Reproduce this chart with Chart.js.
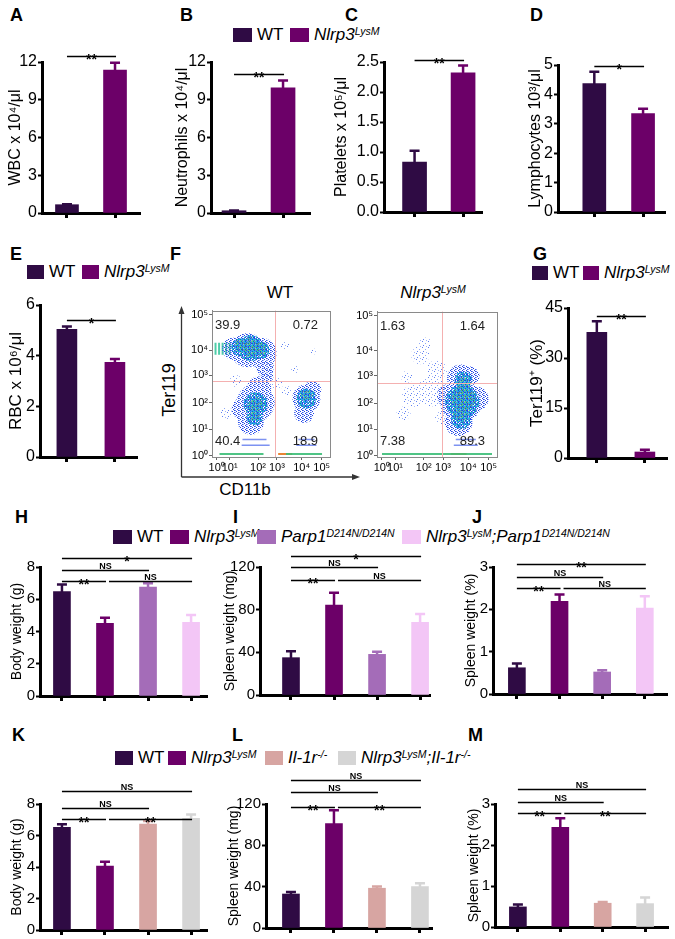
<!DOCTYPE html>
<html><head><meta charset="utf-8">
<script src="https://cdn.jsdelivr.net/npm/chart.js@4.4.1/dist/chart.umd.min.js"></script>
<style>
html,body{margin:0;padding:0;background:#fff;}
#root{position:relative;width:675px;height:939px;overflow:hidden;font-family:'Liberation Sans',Arial,sans-serif;color:#000;}
#root canvas{position:absolute;}
.lbl{position:absolute;font-weight:bold;font-size:18px;line-height:18px;}
.leg{position:absolute;height:18px;line-height:18px;font-size:17px;white-space:nowrap;}
.sw{position:absolute;top:2px;width:19px;height:14px;}
.lt{position:absolute;top:0;}
sup{font-size:10.5px;vertical-align:top;position:relative;top:0px;line-height:10px;}
.ctr{position:absolute;transform:translate(-50%,-50%);white-space:nowrap;line-height:1;}
</style></head>
<body><div id="root"></div>
<script>
// ---------- data ----------
const groups2 = ['WT', 'Nlrp3LysM'];
const wbc = [0.66, 11.35],  wbcErr = [0.03, 0.6];
const neut = [0.18, 9.95],  neutErr = [0.02, 0.58];
const plt = [0.83, 2.32],   pltErr = [0.19, 0.12];
const lymph = [4.37, 3.35], lymphErr = [0.4, 0.16];
const rbc = [5.04, 3.74],   rbcErr = [0.11, 0.13];
const ter = [37.7, 1.8],    terErr = [3.3, 0.7];
const groupsParp = ['WT', 'Nlrp3LysM', 'Parp1D214N/D214N', 'Nlrp3LysM;Parp1D214N/D214N'];
const bwParp = [6.47, 4.51, 6.75, 4.57], bwParpErr = [0.45, 0.35, 0.25, 0.45];
const swParp = [35, 84.4, 38.1, 68.1],   swParpErr = [6, 11.5, 2.5, 7.8];
const spParp = [0.62, 2.19, 0.52, 2.03], spParpErr = [0.1, 0.16, 0.04, 0.28];
const groupsIl = ['WT', 'Nlrp3LysM', 'Il-1r-/-', 'Nlrp3LysM;Il-1r-/-'];
const bwIl = [6.52, 4.06, 6.73, 7.09],   bwIlErr = [0.19, 0.28, 0.19, 0.25];
const swIl = [32.9, 101, 38.5, 40.1],    swIlErr = [2, 13, 1.6, 3.3];
const spIl = [0.49, 2.43, 0.58, 0.57],   spIlErr = [0.06, 0.22, 0.03, 0.15];
// significance comparisons: [from, to, label, row]
const sigA = [[0, 1, '**', 0]];
const sigB = [[0, 1, '**', 0]];
const sigC = [[0, 1, '**', 0]];
const sigD = [[0, 1, '*', 0]];
const sigE = [[0, 1, '*', 0]];
const sigG = [[0, 1, '**', 0]];
const sigH = [[0, 3, '*', 0], [0, 2, 'NS', 1], [0, 1, '**', 2], [1, 3, 'NS', 2]];
const sigI = [[0, 3, '*', 0], [0, 2, 'NS', 1], [0, 1, '**', 2], [1, 3, 'NS', 2]];
const sigJ = [[0, 3, '**', 0], [0, 2, 'NS', 1], [0, 1, '**', 2], [1, 3, 'NS', 2]];
const sigK = [[0, 3, 'NS', 0], [0, 2, 'NS', 1], [0, 1, '**', 2], [1, 3, '**', 2]];
const sigL = [[0, 3, 'NS', 0], [0, 2, 'NS', 1], [0, 1, '**', 2], [1, 3, '**', 2]];
const sigM = [[0, 3, 'NS', 0], [0, 2, 'NS', 1], [0, 1, '**', 2], [1, 3, '**', 2]];
// flow cytometry: decade tick positions on the display scale and labels
const flowXTicks = [0.04, 0.15, 0.39, 0.55, 0.76, 0.93];
const flowYTicks = [0.01, 0.19, 0.37, 0.56, 0.73, 0.97];
const flowTickLabels = ['10⁰', '10¹', '10²', '10³', '10⁴', '10⁵'];
const quadWT = ['39.9', '0.72', '40.4', '18.9'];
const quadKO = ['1.63', '1.64', '7.38', '89.3'];
const gateWT = [0.53, 0.52], gateKO = [0.54, 0.51];
// estimated event clouds (x, y on display scale, r = spread in px)
const wtSparse = [{x:0.46,y:0.60,r:9},{x:0.55,y:0.50,r:6},{x:0.63,y:0.45,r:5},{x:0.20,y:0.52,r:6},{x:0.62,y:0.76,r:5},{x:0.86,y:0.72,r:3},{x:0.12,y:0.30,r:6},{x:0.70,y:0.60,r:4}];
const wtBlue = [{x:0.30,y:0.73,r:17},{x:0.42,y:0.71,r:15},{x:0.45,y:0.61,r:9},{x:0.18,y:0.74,r:11},{x:0.47,y:0.55,r:6},{x:0.37,y:0.37,r:19},{x:0.33,y:0.24,r:13},{x:0.40,y:0.47,r:12},{x:0.26,y:0.33,r:11},{x:0.80,y:0.40,r:14},{x:0.78,y:0.30,r:10},{x:0.85,y:0.46,r:9}];
const wtCyan = [{x:0.33,y:0.745,r:13},{x:0.24,y:0.75,r:9},{x:0.41,y:0.73,r:9},{x:0.37,y:0.36,r:12},{x:0.36,y:0.27,r:8},{x:0.80,y:0.40,r:10}];
const wtGreen = [{x:0.33,y:0.75,r:10},{x:0.25,y:0.76,r:7},{x:0.40,y:0.74,r:7},{x:0.37,y:0.36,r:7},{x:0.36,y:0.28,r:5},{x:0.80,y:0.42,r:6}];
const wtYellow = [{x:0.35,y:0.755,r:5},{x:0.29,y:0.76,r:3}];
const wtStreakV = [{x:0.03,y:0.74,r:6},{x:0.06,y:0.74,r:6},{x:0.09,y:0.74,r:6},{x:0.12,y:0.74,r:6},{x:0.15,y:0.74,r:6}];
const wtRows = [{x:0.36,y:0.12,r:12},{x:0.37,y:0.08,r:14},{x:0.80,y:0.12,r:8},{x:0.80,y:0.08,r:10}];
const wtBottom = [{x:0.25,y:0.02,r:22},{x:0.78,y:0.02,r:18}];
const wtBottomHot = [{x:0.62,y:0.02,r:7}];
const koSparse = [{x:0.45,y:0.45,r:15},{x:0.30,y:0.42,r:11},{x:0.50,y:0.60,r:10},{x:0.36,y:0.70,r:9},{x:0.40,y:0.78,r:6},{x:0.22,y:0.30,r:7},{x:0.55,y:0.28,r:8},{x:0.25,y:0.55,r:6}];
const koBlue = [{x:0.70,y:0.38,r:21},{x:0.68,y:0.24,r:14},{x:0.70,y:0.54,r:14},{x:0.60,y:0.42,r:12},{x:0.83,y:0.40,r:12},{x:0.78,y:0.56,r:9}];
const koCyan = [{x:0.71,y:0.38,r:17},{x:0.70,y:0.26,r:10},{x:0.72,y:0.53,r:9}];
const koGreen = [{x:0.72,y:0.40,r:12},{x:0.70,y:0.30,r:8},{x:0.72,y:0.50,r:7}];
const koYellow = [{x:0.73,y:0.42,r:7},{x:0.74,y:0.35,r:5}];
const koRows = [{x:0.74,y:0.12,r:10},{x:0.74,y:0.08,r:12}];
const koBottom = [{x:0.50,y:0.02,r:55}];
const koBottomHot = [{x:0.68,y:0.02,r:8}];

// ---------- style ----------
const COL = {WT:'#2f0b44', N:'#6c0068', P:'#a46cb8', NP:'#f3c6f6', I:'#d7a5a2', NI:'#d5d5d5'};
const FONT = "'Liberation Sans', Arial, sans-serif";
Chart.defaults.font.family = FONT;
Chart.defaults.color = '#000';
const root = document.getElementById('root');

const errSig = {
  id: 'errSig',
  afterDatasetsDraw(chart, args, o) {
    const ctx = chart.ctx, xs = chart.scales.x, ys = chart.scales.y, top = chart.chartArea.top;
    ctx.save();
    o.values.forEach((v, i) => {
      const e = o.errors[i]; if (!e) return;
      const x = xs.getPixelForValue(i), y0 = ys.getPixelForValue(v), y1 = ys.getPixelForValue(v + e);
      ctx.strokeStyle = o.colors[i]; ctx.lineWidth = 2.5;
      ctx.beginPath(); ctx.moveTo(x, y0 + 1); ctx.lineTo(x, y1); ctx.moveTo(x - o.cap, y1); ctx.lineTo(x + o.cap, y1); ctx.stroke();
    });
    o.sig.forEach(([i, j, t, l]) => {
      const y = Math.round(top + o.levels[l]) + 0.5;
      const x1 = xs.getPixelForValue(i) + (i > 0 ? 4 : 0), x2 = xs.getPixelForValue(j) + 1;
      ctx.strokeStyle = '#000'; ctx.lineWidth = 1.3;
      ctx.beginPath(); ctx.moveTo(x1, y); ctx.lineTo(x2, y); ctx.stroke();
      ctx.fillStyle = '#000'; ctx.textAlign = 'center'; ctx.textBaseline = 'alphabetic';
      if (t === 'NS') { ctx.font = 'bold 9px ' + FONT; ctx.fillText(t, (x1 + x2) / 2, y - 2); }
      else { ctx.font = 'bold 14px ' + FONT; ctx.fillText(t, (x1 + x2) / 2, y + 7); }
    });
    ctx.restore();
  }
};

function makeBar(c) {
  const padT = 40, padR = 8, padB = 16;
  const titleSize = c.titleSize || 16, tickSize = c.tickSize || 16;
  const canvasLeft = Math.min(c.titleX - 10, c.left - 42);
  const padL = c.left - canvasLeft;
  const w = c.right - c.left, h = c.bottom - c.top;
  const cv = document.createElement('canvas');
  cv.width = w + padL + padR; cv.height = h + padT + padB;
  cv.style.left = canvasLeft + 'px'; cv.style.top = (c.top - padT) + 'px';
  root.appendChild(cv);
  new Chart(cv, {
    type: 'bar',
    data: { datasets: [{ data: c.values.map((v, i) => ({x: i, y: v})), backgroundColor: c.colors, borderWidth: 0, barThickness: c.barW }] },
    options: {
      responsive: false, animation: false, events: [], devicePixelRatio: 1,
      layout: { autoPadding: false, padding: { top: padT, right: padR, left: 0, bottom: 0 } },
      plugins: { legend: {display: false}, tooltip: {enabled: false},
        errSig: { values: c.values, errors: c.errors, colors: c.colors, sig: c.sig, levels: c.levels, cap: c.cap || 5 } },
      scales: {
        x: { type: 'linear', min: c.xmin, max: c.xmax, offset: false,
          afterBuildTicks: s => { s.ticks = c.values.map((v, i) => ({value: i})); },
          afterFit: s => { s.height = padB; },
          ticks: { callback: () => '', autoSkip: false },
          grid: { display: true, offset: false, drawOnChartArea: false, tickLength: 5, tickWidth: 3, tickColor: '#000' },
          border: { color: '#000', width: 3 } },
        y: { min: 0, max: c.yMax,
          afterFit: s => { s.width = padL; },
          ticks: { stepSize: c.step, font: { size: tickSize }, color: '#000', padding: 1, callback: v => v.toFixed(c.dec || 0) },
          grid: { drawOnChartArea: false, tickLength: 4, tickWidth: 2, tickColor: '#000' },
          border: { color: '#000', width: 3 },
          title: { display: true, text: c.title, font: { size: titleSize }, color: '#000', padding: { top: c.titleX - canvasLeft - titleSize * 0.6, bottom: 0 } } }
      }
    },
    plugins: [errSig]
  });
}

function makePattern(size, dots) {
  const c = document.createElement('canvas'); c.width = size; c.height = size;
  const g = c.getContext('2d');
  dots.forEach(([x, y, col]) => { g.fillStyle = col; g.fillRect(x, y, 1, 1); });
  return g.createPattern(c, 'repeat');
}
const sparseP = makePattern(6, [[1,1,'#5f80f2'],[4,3,'#8fa8f6'],[2,5,'#5f80f2'],[5,0,'#9fb4f8']]);
const blueP = makePattern(4, [[0,0,'#1f3fe0'],[2,1,'#3a5cf0'],[1,2,'#1f3fe0'],[3,3,'#5a7af5'],[2,3,'#2a4ae6'],[3,1,'#8fa8f6']]);
const cyanP = makePattern(3, [[0,0,'#19b8e6'],[1,1,'#2a4ae6'],[2,2,'#1fd0d0'],[1,0,'#19b8e6'],[0,2,'#28a0f0'],[2,0,'#36c9a8'],[0,1,'#2fc4b0']]);

const quadPlugin = {
  id: 'quad',
  afterDatasetsDraw(chart, args, o) {
    const ctx = chart.ctx, a = chart.chartArea, xs = chart.scales.x, ys = chart.scales.y;
    ctx.save();
    ctx.strokeStyle = '#f4b0b0'; ctx.lineWidth = 1;
    const gx = Math.round(xs.getPixelForValue(o.gate[0])) + 0.5, gy = Math.round(ys.getPixelForValue(o.gate[1])) + 0.5;
    ctx.beginPath(); ctx.moveTo(gx, a.top); ctx.lineTo(gx, a.bottom); ctx.moveTo(a.left, gy); ctx.lineTo(a.right, gy); ctx.stroke();
    ctx.strokeStyle = '#8a8a8a'; ctx.lineWidth = 1;
    ctx.strokeRect(Math.round(a.left) + 0.5, Math.round(a.top) + 0.5, Math.round(a.right - a.left), Math.round(a.bottom - a.top));
    ctx.fillStyle = '#222'; ctx.font = '13px ' + FONT; ctx.textBaseline = 'middle';
    ctx.textAlign = 'left';
    ctx.fillText(o.quad[0], a.left + 3, a.top + 15); ctx.fillText(o.quad[2], a.left + 3, a.bottom - 16);
    ctx.textAlign = 'right';
    ctx.fillText(o.quad[1], a.right - 12, a.top + 15); ctx.fillText(o.quad[3], a.right - 12, a.bottom - 16);
    ctx.restore();
  }
};

function makeFlow(c) {
  const padL = 40, padT = 4, padR = 4, padB = 24;
  const w = c.right - c.left, h = c.bottom - c.top;
  const cv = document.createElement('canvas');
  cv.width = w + padL + padR; cv.height = h + padT + padB;
  cv.style.left = (c.left - padL) + 'px'; cv.style.top = (c.top - padT) + 'px';
  root.appendChild(cv);
  const bub = (data, bg) => ({ data, backgroundColor: bg, borderWidth: 0, pointStyle: 'circle' });
  const ln = (data, col, rot, wdt) => ({ data, pointStyle: 'line', borderColor: col, borderWidth: wdt || 1, rotation: rot || 0 });
  new Chart(cv, {
    type: 'bubble',
    data: { datasets: c.layers.map(([kind, d, col, rot, wd]) => kind === 'b' ? bub(d, col) : ln(d, col, rot, wd)) },
    options: {
      responsive: false, animation: false, events: [], devicePixelRatio: 1,
      layout: { autoPadding: false, padding: { top: padT, right: padR, left: 0, bottom: 0 } },
      plugins: { legend: {display: false}, tooltip: {enabled: false}, quad: { gate: c.gate, quad: c.quad } },
      scales: {
        x: { type: 'linear', min: 0, max: 1,
          afterBuildTicks: s => { s.ticks = flowXTicks.map(v => ({value: v})); },
          afterFit: s => { s.height = padB; },
          ticks: { callback: (v, i) => flowTickLabels[i], autoSkip: false, maxRotation: 0, font: { size: 11 }, color: '#000', padding: 1 },
          grid: { drawOnChartArea: false, tickLength: 3, tickColor: '#666' },
          border: { color: '#8a8a8a', width: 1 } },
        y: { type: 'linear', min: 0, max: 1,
          afterBuildTicks: s => { s.ticks = flowYTicks.map(v => ({value: v})); },
          afterFit: s => { s.width = padL; },
          ticks: { callback: (v, i) => flowTickLabels[i], autoSkip: false, font: { size: 11 }, color: '#000', padding: 1 },
          grid: { drawOnChartArea: false, tickLength: 3, tickColor: '#666' },
          border: { color: '#8a8a8a', width: 1 } }
      }
    },
    plugins: [quadPlugin]
  });
}

// ---------- HTML labels ----------
function addHTML(html) { root.insertAdjacentHTML('beforeend', html); }
const letters = [['A',10,6],['B',180,6],['C',345,6],['D',530,6],['E',10,245],['F',170,245],['G',533,245],['H',15,508],['I',233,508],['J',472,508],['K',12,726],['L',232,726],['M',468,726]];
letters.forEach(([t, x, y]) => addHTML(`<div class="lbl" style="left:${x}px;top:${y}px">${t}</div>`));
const NL = '<i>Nlrp3<sup>LysM</sup></i>';
function legend(cy, items, sw) {
  items.forEach(([x, col, txt]) => {
    addHTML(`<div class="leg" style="left:${x}px;top:${cy - 9}px"><span class="sw" style="left:0;width:${sw}px;background:${col}"></span><span class="lt" style="left:${sw + 5}px">${txt}</span></div>`);
  });
}
legend(35, [[233, COL.WT, 'WT'], [290, COL.N, NL]], 19);
legend(272, [[27, COL.WT, 'WT'], [82, COL.N, NL]], 17);
legend(273, [[532, COL.WT, 'WT'], [583, COL.N, NL]], 16);
legend(537, [[113, COL.WT, 'WT'], [170, COL.N, NL], [257, COL.P, '<i>Parp1<sup>D214N/D214N</sup></i>'], [402, COL.NP, '<i>Nlrp3<sup>LysM</sup>;Parp1<sup>D214N/D214N</sup></i>']], 19);
legend(758, [[115, COL.WT, 'WT'], [168, COL.N, NL], [265, COL.I, '<i>Il-1r<sup>-/-</sup></i>'], [338, COL.NI, '<i>Nlrp3<sup>LysM</sup>;Il-1r<sup>-/-</sup></i>']], 18);

addHTML(`<div class="ctr" style="left:280px;top:292px;font-size:17px">WT</div>`);
addHTML(`<div class="ctr" style="left:433px;top:292px;font-size:17px"><i>Nlrp3<sup>LysM</sup></i></div>`);
addHTML(`<div class="ctr" style="left:169px;top:390px;font-size:18px;transform:translate(-50%,-50%) rotate(-90deg)">Ter119</div>`);
addHTML(`<div class="ctr" style="left:245px;top:489px;font-size:17px">CD11b</div>`);
addHTML(`<svg style="position:absolute;left:0;top:0" width="675" height="939"><g stroke="#333" stroke-width="1.3" fill="none"><path d="M181.5 477 V312"/><path d="M181.5 477 H354"/></g><g fill="#333"><path d="M181.5 306 l-3 8 h6 z"/><path d="M360 477 l-8 -3 v6 z"/></g></svg>`);

// ---------- charts ----------
const c2 = [COL.WT, COL.N], c4p = [COL.WT, COL.N, COL.P, COL.NP], c4i = [COL.WT, COL.N, COL.I, COL.NI];
makeBar({left:42, right:140, top:62, bottom:213, xmin:-0.52, xmax:1.52, barW:23, values:wbc, errors:wbcErr, colors:c2, yMax:12, step:3, title:'WBC x 10⁴/μl', titleX:16, sig:sigA, levels:[-6]});
makeBar({left:211, right:310, top:62, bottom:213, xmin:-0.47, xmax:1.55, barW:24, values:neut, errors:neutErr, colors:c2, yMax:12, step:3, title:'Neutrophils x 10⁴/μl', titleX:183, sig:sigB, levels:[12]});
makeBar({left:384, right:482, top:62, bottom:212, xmin:-0.63, xmax:1.39, barW:24, values:plt, errors:pltErr, colors:c2, yMax:2.5, step:0.5, dec:1, title:'Platelets x 10⁵/μl', titleX:342, sig:sigC, levels:[-2]});
makeBar({left:558, right:665, top:65, bottom:212, xmin:-0.745, xmax:1.45, barW:23, values:lymph, errors:lymphErr, colors:c2, yMax:5, step:1, title:'Lymphocytes 10³/μl', titleX:536, sig:sigD, levels:[1]});
makeBar({left:40, right:137, top:305, bottom:457, xmin:-0.56, xmax:1.46, barW:20, values:rbc, errors:rbcErr, colors:c2, yMax:6, step:2, title:'RBC x 10⁶/μl', titleX:16, titleSize:17, sig:sigE, levels:[15]});
makeBar({left:568, right:667, top:308, bottom:458, xmin:-0.6, xmax:1.46, barW:20, values:ter, errors:terErr, colors:c2, yMax:45, step:15, title:'Ter119⁺ (%)', titleX:537, titleSize:17, sig:sigG, levels:[8]});
makeBar({left:40, right:207, top:567, bottom:696, xmin:-0.51, xmax:3.37, barW:17, values:bwParp, errors:bwParpErr, colors:c4p, yMax:8, step:2, title:'Body weight (g)', titleX:17, titleSize:14, tickSize:15, sig:sigH, levels:[-9, 3, 14]});
makeBar({left:260, right:430, top:567, bottom:695, xmin:-0.72, xmax:3.23, barW:17, values:swParp, errors:swParpErr, colors:c4p, yMax:120, step:40, title:'Spleen weight (mg)', titleX:230, titleSize:14, tickSize:15, sig:sigI, levels:[-11, 0, 13]});
makeBar({left:493, right:667, top:567, bottom:694, xmin:-0.56, xmax:3.52, barW:17, values:spParp, errors:spParpErr, colors:c4p, yMax:3, step:1, title:'Spleen weight (%)', titleX:471, titleSize:14, tickSize:15, sig:sigJ, levels:[-3, 10, 21]});
makeBar({left:40, right:207, top:804, bottom:930, xmin:-0.51, xmax:3.37, barW:17, values:bwIl, errors:bwIlErr, colors:c4i, yMax:8, step:2, title:'Body weight (g)', titleX:17, titleSize:14, tickSize:15, sig:sigK, levels:[-13, 4, 15]});
makeBar({left:266, right:432, top:804, bottom:928, xmin:-0.58, xmax:3.28, barW:17, values:swIl, errors:swIlErr, colors:c4i, yMax:120, step:40, title:'Spleen weight (mg)', titleX:234, titleSize:14, tickSize:15, sig:sigL, levels:[-24, -12, 3]});
makeBar({left:495, right:668, top:804, bottom:927, xmin:-0.54, xmax:3.54, barW:17, values:spIl, errors:spIlErr, colors:c4i, yMax:3, step:1, title:'Spleen weight (%)', titleX:474, titleSize:14, tickSize:15, sig:sigM, levels:[-15, -2, 9]});

const GREEN = 'rgba(95,205,75,0.85)', YEL = 'rgba(236,232,20,0.95)';
makeFlow({left:212, right:330, top:307, bottom:457, gate:gateWT, quad:quadWT, layers:[
  ['b', wtSparse, sparseP], ['b', wtBlue, blueP], ['b', wtCyan, cyanP], ['b', wtGreen, GREEN], ['b', wtYellow, YEL],
  ['l', wtStreakV, 'rgba(60,200,160,0.9)', 90, 2], ['l', wtRows, 'rgba(70,100,235,0.7)', 0, 1.5],
  ['l', wtBottom, 'rgba(60,190,120,0.9)', 0, 2], ['l', wtBottomHot, 'rgba(230,120,30,0.9)', 0, 2]]});
makeFlow({left:377, right:497, top:308, bottom:457, gate:gateKO, quad:quadKO, layers:[
  ['b', koSparse, sparseP], ['b', koBlue, blueP], ['b', koCyan, cyanP], ['b', koGreen, GREEN], ['b', koYellow, YEL],
  ['l', koRows, 'rgba(70,100,235,0.7)', 0, 1.5], ['l', koBottom, 'rgba(60,190,120,0.9)', 0, 2], ['l', koBottomHot, 'rgba(230,120,30,0.9)', 0, 2]]});
</script>
</body></html>
